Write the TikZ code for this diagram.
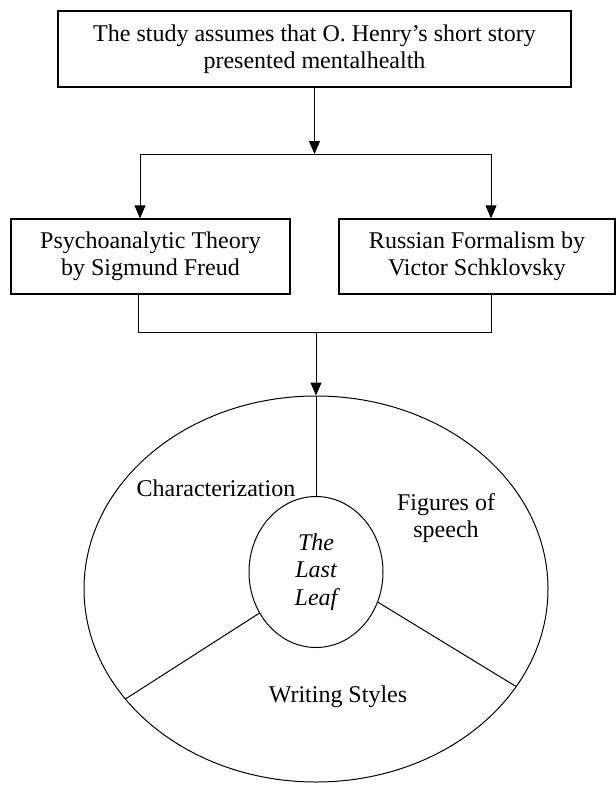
\documentclass[tikz,border=0pt]{standalone}
\usepackage{fontspec}
\setmainfont{Liberation Serif}
\usetikzlibrary{shapes.geometric,arrows.meta}
\begin{document}
\begin{tikzpicture}[x=1pt,y=-1pt,
  font=\fontsize{24}{27.5}\selectfont,
  box/.style={draw, line width=1.3pt, inner sep=0pt, align=center},
  ln/.style={line width=1pt},
  arr/.style={line width=1pt, -{Triangle[length=13pt,width=11pt]}},
  lbl/.style={inner sep=0pt, align=center},
  ring/.style={draw, ellipse, line width=1pt, inner sep=0pt, align=center}]
\useasboundingbox (0,0) rectangle (616,785);
% boxes
\node[box, minimum width=513pt, minimum height=76pt] (top) at (314.5,49)
  {The study assumes that O. Henry’s short story\\presented mentalhealth};
\node[box, minimum width=279pt, minimum height=75pt] (psy) at (150.5,256.5)
  {Psychoanalytic Theory\\by Sigmund Freud};
\node[box, minimum width=276pt, minimum height=75pt] (rus) at (477,256.5)
  {Russian Formalism by\\Victor Schklovsky};
% ellipses
\node[ring, minimum width=464pt, minimum height=386pt] (big) at (316,589) {};
\node[ring, minimum width=134pt, minimum height=151pt, font=\fontsize{24}{27.5}\selectfont\itshape] (leaf) at (316,572) {The\\Last\\Leaf};
% junction coordinates
\coordinate (j1) at (314.5,154);
\coordinate (jl) at (140,154);
\coordinate (jr) at (491,154);
\coordinate (bl) at (138,332);
\coordinate (br) at (491,332);
\coordinate (bm) at (316,332);
% connectors
\draw[arr] (top.south) -- (j1);
\draw[ln] (jl) -- (jr);
\draw[arr] (jl) -- (jl |- psy.north);
\draw[arr] (jr) -- (jr |- rus.north);
\draw[ln] (bl |- psy.south) -- (bl) -- (br) -- (br |- rus.south);
\draw[arr] (bm) -- (big.north);
% spokes
\draw[ln] (big.north) -- (leaf.north);
\draw[ln] (leaf.216) -- (big.210.6);
\draw[ln] (leaf.334) -- (big.334.5);
% labels
\node[lbl] (char) at (216,488) {Characterization};
\node[lbl] (fig) at (446,518) {Figures of\\speech};
\node[lbl] (wri) at (338,697) {Writing Styles};
\end{tikzpicture}
\end{document}
